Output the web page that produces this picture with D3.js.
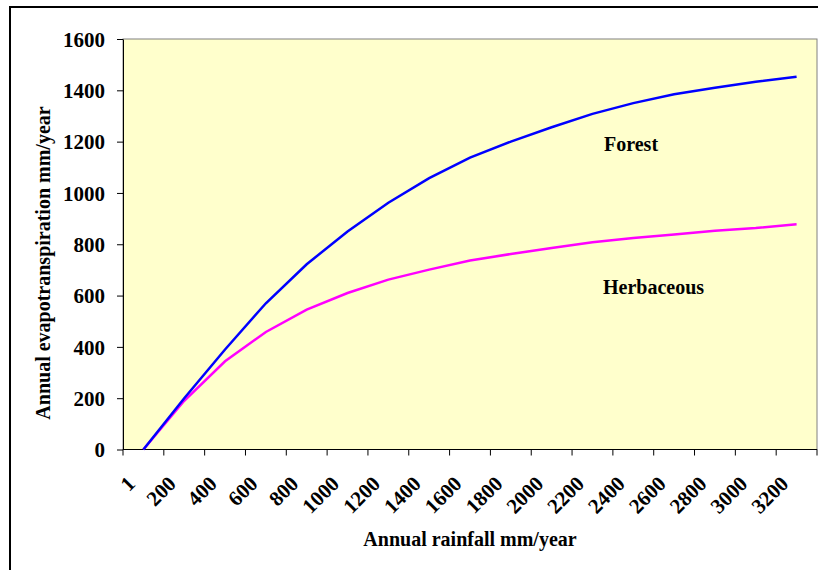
<!DOCTYPE html>
<html>
<head>
<meta charset="utf-8">
<script src="https://cdn.jsdelivr.net/npm/d3@7"></script>
<style>
  body { margin: 0; background: #fff; }
  text { font-family: "Liberation Serif", "Times New Roman", serif; font-weight: bold; fill: #000; }
</style>
</head>
<body>
<div id="chart"></div>
<script>
// rainfall categories (mm/year)
var categories = ["1", "200", "400", "600", "800", "1000", "1200", "1400", "1600",
                  "1800", "2000", "2200", "2400", "2600", "2800", "3000", "3200"];
// annual evapotranspiration, mm/year
var forest = [0, 200, 390, 570, 722, 850, 962, 1058, 1138, 1200, 1256, 1308, 1350, 1385, 1410, 1433, 1453];
var herbaceous = [0, 190, 344, 458, 545, 610, 662, 701, 737, 762, 785, 808, 824, 838, 853, 863, 878];
var yTicks = [0, 200, 400, 600, 800, 1000, 1200, 1400, 1600];

var width = 818, height = 570;
var plot = { left: 123, top: 39, right: 817, bottom: 449.5 };

var svg = d3.select("#chart").append("svg")
    .attr("width", width)
    .attr("height", height);

// outer chart frame
svg.append("rect")
    .attr("x", 10).attr("y", 7)
    .attr("width", 830).attr("height", 580)
    .attr("fill", "#fff")
    .attr("stroke", "#000")
    .attr("stroke-width", 2);

var x = d3.scaleBand()
    .domain(categories)
    .range([plot.left, plot.right])
    .padding(0);

var y = d3.scaleLinear()
    .domain([0, 1600])
    .range([plot.bottom, plot.top]);

// plot area
svg.append("rect")
    .attr("x", plot.left).attr("y", plot.top)
    .attr("width", plot.right - plot.left)
    .attr("height", plot.bottom - plot.top)
    .attr("fill", "#ffffcc")
    .attr("stroke", "#808080")
    .attr("stroke-width", 1);

// y axis
var yAxis = svg.append("g")
    .attr("transform", "translate(" + plot.left + ",0)")
    .call(d3.axisLeft(y).tickValues(yTicks).tickFormat(d3.format("d"))
        .tickSize(6).tickPadding(12).tickSizeOuter(0));
yAxis.select(".domain").attr("stroke", "#000");
yAxis.selectAll(".tick line").attr("stroke", "#000");
yAxis.selectAll(".tick text")
    .attr("font-family", "Liberation Serif")
    .attr("font-weight", "bold")
    .attr("font-size", 21)
    .attr("dy", "0.34em");

// x axis (category axis, ticks between categories)
var xg = svg.append("g");
xg.append("line")
    .attr("x1", plot.left).attr("x2", plot.right)
    .attr("y1", plot.bottom).attr("y2", plot.bottom)
    .attr("stroke", "#000");
var bounds = categories.map(function (c) { return x(c); }).concat([plot.right]);
xg.selectAll(".xtick")
    .data(bounds)
    .enter()
    .append("line")
    .attr("x1", function (d) { return d; })
    .attr("x2", function (d) { return d; })
    .attr("y1", plot.bottom)
    .attr("y2", plot.bottom + 6)
    .attr("stroke", "#000");
xg.selectAll(".xlabel")
    .data(categories)
    .enter()
    .append("text")
    .attr("transform", function (d) {
        return "translate(" + (x(d) + x.bandwidth() / 2 - 7) + "," + 485 + ") rotate(-45)";
    })
    .attr("text-anchor", "end")
    .attr("font-size", 21)
    .text(function (d) { return d; });

// lines
var cx = function (d, i) { return x(categories[i]) + x.bandwidth() / 2; };
var line = d3.line()
    .x(cx)
    .y(function (d) { return y(d); });

svg.append("path")
    .datum(herbaceous)
    .attr("d", line)
    .attr("fill", "none")
    .attr("stroke", "#ff00ff")
    .attr("stroke-width", 2.5);

svg.append("path")
    .datum(forest)
    .attr("d", line)
    .attr("fill", "none")
    .attr("stroke", "#0000ff")
    .attr("stroke-width", 2.5);

// series labels
svg.append("text")
    .attr("x", 604).attr("y", 151)
    .attr("font-size", 20)
    .text("Forest");
svg.append("text")
    .attr("x", 603).attr("y", 294)
    .attr("font-size", 20)
    .text("Herbaceous");

// axis titles
svg.append("text")
    .attr("x", (plot.left + plot.right) / 2)
    .attr("y", 546)
    .attr("text-anchor", "middle")
    .attr("font-size", 20)
    .text("Annual rainfall mm/year");
svg.append("text")
    .attr("transform", "translate(50,263) rotate(-90)")
    .attr("text-anchor", "middle")
    .attr("font-size", 20)
    .text("Annual evapotranspiration mm/year");
</script>
</body>
</html>
